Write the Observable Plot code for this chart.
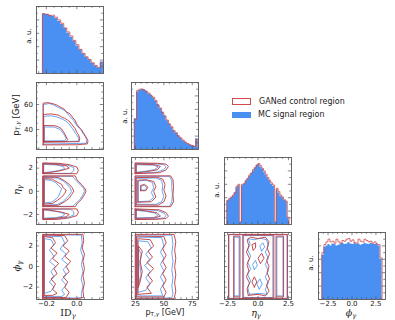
<!DOCTYPE html>
<html><head><meta charset="utf-8">
<script src="https://cdn.jsdelivr.net/npm/d3@7"></script>
<script src="https://cdn.jsdelivr.net/npm/@observablehq/plot@0.6"></script>
<style>
body{margin:0;background:#fff;}
#root{position:relative;width:395px;height:320px;overflow:hidden;font-family:"DejaVu Sans",sans-serif;}
.p{position:absolute;}
.lab{position:absolute;white-space:nowrap;color:#222;line-height:1;}
.lab sub{font-size:0.7em;vertical-align:-0.25em;line-height:0;}
.rot{transform:translate(-50%,-50%) rotate(-90deg);}
.ctr{transform:translate(-50%,-50%);}
.serif{font-family:"DejaVu Serif",serif;}
</style></head><body><div id="root"></div>
<script>
// ---------------- data ----------------
const seriesNames = ["GANed control region", "MC signal region"];

// ID_gamma histogram
const idHistStart = -0.226, idHistWidth = 0.02;
const idHistMC  = [0.89,0.88,0.87,0.85,0.82,0.78,0.73,0.67,0.60,0.54,0.48,0.41,0.35,0.29,0.24,0.20,0.15,0.11,0.08,0.17];
const idHistGAN = [0.89,0.885,0.86,0.87,0.84,0.80,0.75,0.68,0.62,0.56,0.49,0.43,0.36,0.30,0.25,0.21,0.16,0.12,0.09,0.16];

// pT histogram
const ptHistStart = 24, ptHistWidth = 2;
const ptHistMC  = [0.46,0.86,0.88,0.90,0.89,0.87,0.83,0.81,0.77,0.72,0.67,0.61,0.56,0.50,0.43,0.38,0.33,0.28,0.24,0.21,0.17,0.13,0.11,0.085,0.07,0.06,0.045,0.16];
const ptHistGAN = [0.45,0.88,0.90,0.90,0.88,0.86,0.84,0.80,0.78,0.73,0.66,0.62,0.55,0.50,0.44,0.38,0.34,0.28,0.25,0.20,0.17,0.14,0.11,0.09,0.07,0.06,0.05,0.15];

// eta histogram
const etaHistStart = -2.55, etaHistWidth = 0.15;
const etaHistMC  = [0.35,0.37,0.40,0.42,0.47,0.55,0.58,0.03,0.58,0.60,0.64,0.68,0.72,0.76,0.80,0.84,0.88,0.90,0.86,0.83,0.78,0.73,0.69,0.65,0.60,0.57,0.03,0.52,0.47,0.42,0.40,0.36,0.34,0.10];
const etaHistGAN = [0.36,0.39,0.41,0.44,0.48,0.57,0.60,0.04,0.60,0.61,0.66,0.69,0.74,0.77,0.82,0.85,0.89,0.91,0.88,0.84,0.80,0.75,0.70,0.66,0.62,0.59,0.04,0.54,0.49,0.44,0.41,0.37,0.35,0.11];

// phi histogram
const phiHistStart = -3.1416, phiHistWidth = 0.20944;
const phiHistMC  = [0.66,0.78,0.80,0.82,0.80,0.83,0.82,0.80,0.81,0.83,0.84,0.82,0.83,0.85,0.83,0.82,0.84,0.82,0.83,0.81,0.82,0.84,0.83,0.82,0.84,0.83,0.82,0.83,0.80,0.60];
const phiHistGAN = [0.70,0.82,0.86,0.90,0.86,0.87,0.84,0.90,0.86,0.84,0.88,0.87,0.90,0.91,0.87,0.89,0.85,0.84,0.90,0.87,0.86,0.90,0.88,0.86,0.87,0.84,0.86,0.83,0.82,0.62];

// contour lines: [x, y] points, one list per contour
const idPtGAN = [
 [[-0.222,27.7],[-0.222,61],[-0.19,61.5],[-0.153,60.5],[-0.13,59.5],[-0.11,58],[-0.085,56.5],[-0.067,54],[-0.045,52.5],[-0.03,50],[-0.01,47],[-0.002,44.5],[0.02,41],[0.03,40],[0.04,38],[0.06,34],[0.073,31],[0.07,28.5],[0.0,27.8],[-0.222,27.7]],
 [[-0.219,29.8],[-0.219,52],[-0.17,52.5],[-0.12,51.5],[-0.1,50],[-0.08,49],[-0.06,47.5],[-0.045,46],[-0.02,42],[-0.01,40.5],[-0.002,38],[0.01,36],[0.019,33],[0.015,30.3],[-0.219,29.8]],
 [[-0.216,30.5],[-0.216,43.2],[-0.142,43],[-0.12,42],[-0.1,40.5],[-0.09,38.5],[-0.077,36],[-0.07,34],[-0.06,32],[-0.07,30.3],[-0.216,30.5]]
];
const idPtMC = [
 [[-0.22,28.3],[-0.22,60],[-0.18,60.8],[-0.15,59.5],[-0.12,57.5],[-0.1,56.5],[-0.08,55],[-0.06,52.5],[-0.05,51],[-0.02,47],[0.0,43],[0.01,42],[0.025,40],[0.045,36],[0.055,34.5],[0.065,32],[0.062,29],[-0.22,28.3]],
 [[-0.217,30.2],[-0.217,50.5],[-0.17,51],[-0.13,50],[-0.09,48],[-0.07,46.5],[-0.055,45],[-0.03,41],[-0.01,37],[0.0,35.5],[0.012,33],[0.008,30.6],[-0.217,30.2]],
 [[-0.214,30.8],[-0.214,42],[-0.15,42],[-0.13,41],[-0.11,40],[-0.09,37],[-0.08,35],[-0.07,33],[-0.08,31],[-0.214,30.8]]
];
const idEtaGAN = [
 [[-0.224,-1.33],[-0.224,1.33],[-0.01,1.33],[0.0,1.0],[0.03,0.6],[0.055,0.2],[0.06,0],[0.05,-0.3],[0.03,-0.7],[0.0,-1.1],[-0.01,-1.33],[-0.224,-1.33]],
 [[-0.22,-1.25],[-0.22,1.25],[-0.12,1.2],[-0.08,0.9],[-0.05,0.6],[-0.03,0.3],[-0.02,0],[-0.035,-0.3],[-0.05,-0.6],[-0.08,-0.9],[-0.12,-1.2],[-0.22,-1.25]],
 [[-0.215,-1.1],[-0.215,1.1],[-0.16,1.05],[-0.13,0.8],[-0.1,0.6],[-0.09,0.3],[-0.07,0.1],[-0.08,-0.2],[-0.1,-0.5],[-0.13,-0.8],[-0.16,-1.05],[-0.215,-1.1]],
 [[-0.224,1.52],[-0.224,2.45],[-0.12,2.42],[-0.05,2.3],[0.0,2.1],[0.01,1.8],[0.0,1.52],[-0.224,1.52]],
 [[-0.22,1.58],[-0.22,2.38],[-0.13,2.32],[-0.07,2.2],[-0.05,2.0],[-0.1,1.8],[-0.18,1.62],[-0.22,1.58]],
 [[-0.224,-1.52],[-0.224,-2.45],[-0.12,-2.42],[-0.05,-2.3],[0.0,-2.1],[0.01,-1.8],[0.0,-1.52],[-0.224,-1.52]],
 [[-0.22,-1.58],[-0.22,-2.38],[-0.13,-2.32],[-0.07,-2.2],[-0.05,-2.0],[-0.1,-1.8],[-0.18,-1.62],[-0.22,-1.58]]
];
const idEtaMC = [
 [[-0.222,-1.3],[-0.222,1.3],[-0.03,1.3],[-0.01,1.0],[0.02,0.6],[0.045,0.25],[0.05,0],[0.04,-0.3],[0.02,-0.7],[-0.01,-1.1],[-0.03,-1.3],[-0.222,-1.3]],
 [[-0.218,-1.2],[-0.218,1.2],[-0.13,1.15],[-0.09,0.9],[-0.06,0.55],[-0.045,0.3],[-0.035,0],[-0.05,-0.35],[-0.07,-0.6],[-0.09,-0.9],[-0.13,-1.15],[-0.218,-1.2]],
 [[-0.213,-1.0],[-0.213,1.0],[-0.17,0.95],[-0.14,0.75],[-0.12,0.5],[-0.1,0.2],[-0.11,-0.1],[-0.12,-0.45],[-0.15,-0.8],[-0.17,-0.95],[-0.213,-1.0]],
 [[-0.222,1.55],[-0.222,2.42],[-0.13,2.38],[-0.06,2.25],[-0.02,2.05],[-0.02,1.8],[-0.04,1.55],[-0.222,1.55]],
 [[-0.218,1.62],[-0.218,2.32],[-0.14,2.28],[-0.09,2.15],[-0.08,1.95],[-0.12,1.78],[-0.19,1.65],[-0.218,1.62]],
 [[-0.222,-1.55],[-0.222,-2.42],[-0.13,-2.38],[-0.06,-2.25],[-0.02,-2.05],[-0.02,-1.8],[-0.04,-1.55],[-0.222,-1.55]],
 [[-0.218,-1.62],[-0.218,-2.32],[-0.14,-2.28],[-0.09,-2.15],[-0.08,-1.95],[-0.12,-1.78],[-0.19,-1.65],[-0.218,-1.62]]
];
const ptEtaGAN = [
 [[24.6,-1.33],[24.6,1.33],[56,1.33],[58,1.0],[58.5,0.4],[58,-0.3],[58.5,-0.9],[56,-1.33],[24.6,-1.33]],
 [[25.5,-1.18],[25.5,1.18],[44,1.22],[49,1.05],[51,0.6],[50,0.1],[52,-0.4],[50,-0.9],[45,-1.2],[25.5,-1.18]],
 [[27,-0.95],[27,0.95],[34,1.0],[41,0.85],[43,0.4],[41,0.0],[43,-0.5],[39,-0.9],[27,-0.95]],
 [[29.5,0.05],[29.5,0.5],[33,0.6],[36,0.35],[34,0.05],[29.5,0.05]],
 [[24.6,1.52],[24.6,2.45],[44,2.42],[52,2.35],[54,2.15],[52,1.85],[46,1.6],[24.6,1.52]],
 [[25.5,1.6],[25.5,2.35],[42,2.3],[47,2.15],[44,1.85],[35,1.7],[25.5,1.6]],
 [[24.6,-1.52],[24.6,-2.45],[44,-2.42],[52,-2.35],[54,-2.15],[52,-1.85],[46,-1.6],[24.6,-1.52]],
 [[25.5,-1.6],[25.5,-2.35],[42,-2.3],[47,-2.15],[44,-1.85],[35,-1.7],[25.5,-1.6]]
];
const ptEtaMC = [
 [[24.9,-1.3],[24.9,1.3],[55,1.3],[57,0.9],[57,0.3],[57.5,-0.3],[57,-0.9],[55,-1.3],[24.9,-1.3]],
 [[25.8,-1.12],[25.8,1.12],[43,1.15],[48,0.95],[49,0.5],[48.5,0.0],[50,-0.45],[48,-0.9],[43,-1.13],[25.8,-1.12]],
 [[27.5,-0.9],[27.5,0.9],[35,0.95],[40,0.75],[41,0.3],[39,-0.1],[41,-0.55],[37,-0.85],[27.5,-0.9]],
 [[30,0.1],[30,0.45],[33,0.5],[35,0.3],[33,0.1],[30,0.1]],
 [[24.9,1.55],[24.9,2.42],[43,2.38],[50,2.3],[52,2.12],[50,1.88],[44,1.65],[24.9,1.55]],
 [[25.8,1.64],[25.8,2.3],[41,2.26],[45,2.1],[42,1.88],[34,1.74],[25.8,1.64]],
 [[24.9,-1.55],[24.9,-2.42],[43,-2.38],[50,-2.3],[52,-2.12],[50,-1.88],[44,-1.65],[24.9,-1.55]],
 [[25.8,-1.64],[25.8,-2.3],[41,-2.26],[45,-2.1],[42,-1.88],[34,-1.74],[25.8,-1.64]]
];
const idPhiGAN = [
 [[-0.225,-3.12],[-0.225,3.12],[0.04,3.12],[0.045,2.5],[0.035,1.8],[0.05,1.2],[0.04,0.5],[0.05,-0.2],[0.04,-0.9],[0.05,-1.6],[0.04,-2.3],[0.045,-3.0],[0.0,-3.12],[-0.225,-3.12]],
 [[-0.22,-3.0],[-0.22,3.05],[-0.08,3.0],[-0.06,2.5],[-0.09,2.0],[-0.05,1.5],[-0.08,1.0],[-0.04,0.5],[-0.07,0],[-0.05,-0.5],[-0.09,-1.0],[-0.06,-1.5],[-0.08,-2.0],[-0.05,-2.5],[-0.07,-3.0],[-0.22,-3.0]],
 [[-0.215,-2.8],[-0.215,2.9],[-0.16,2.8],[-0.14,2.3],[-0.17,1.8],[-0.13,1.3],[-0.16,0.8],[-0.12,0.3],[-0.15,-0.2],[-0.13,-0.7],[-0.17,-1.2],[-0.14,-1.7],[-0.16,-2.2],[-0.13,-2.6],[-0.16,-2.8],[-0.215,-2.8]]
];
const idPhiMC = [
 [[-0.223,-3.05],[-0.223,3.08],[0.03,3.05],[0.035,2.3],[0.025,1.6],[0.04,0.9],[0.03,0.2],[0.04,-0.5],[0.028,-1.2],[0.04,-1.9],[0.03,-2.6],[0.03,-3.05],[-0.223,-3.05]],
 [[-0.218,-2.9],[-0.218,2.95],[-0.1,2.9],[-0.08,2.3],[-0.11,1.7],[-0.07,1.2],[-0.1,0.7],[-0.06,0.2],[-0.09,-0.3],[-0.07,-0.8],[-0.1,-1.3],[-0.07,-1.8],[-0.1,-2.3],[-0.08,-2.7],[-0.1,-2.9],[-0.218,-2.9]],
 [[-0.213,-2.6],[-0.213,2.7],[-0.17,2.6],[-0.15,2.1],[-0.18,1.6],[-0.15,1.0],[-0.18,0.5],[-0.14,0],[-0.17,-0.5],[-0.15,-1.0],[-0.18,-1.5],[-0.15,-2.0],[-0.17,-2.4],[-0.213,-2.6]]
];
const ptPhiGAN = [
 [[24.8,-3.12],[24.8,3.12],[59,3.12],[60.5,2.4],[59.5,1.6],[60.5,0.8],[59.5,0],[60.5,-0.8],[59.5,-1.6],[60.5,-2.4],[59,-3.12],[24.8,-3.12]],
 [[25.8,-2.95],[25.8,2.95],[50,2.9],[52,2.3],[49,1.7],[52,1.1],[49,0.5],[52,-0.1],[49,-0.7],[52,-1.3],[49,-1.9],[52,-2.5],[50,-2.95],[25.8,-2.95]],
 [[27,-2.7],[27,2.7],[38,2.6],[41,2.0],[36,1.5],[40,0.9],[35,0.4],[41,-0.2],[36,-0.8],[40,-1.4],[35,-2.0],[39,-2.6],[27,-2.7]],
 [[27.5,-2],[27.5,2],[31,1.5],[29,0.5],[31,-0.5],[29,-1.5],[27.5,-2]]
];
const ptPhiMC = [
 [[25.1,-3.05],[25.1,3.05],[57,3.05],[58,2.2],[57,1.3],[58,0.5],[57,-0.3],[58,-1.1],[57,-1.9],[58,-2.6],[57,-3.05],[25.1,-3.05]],
 [[26,-2.85],[26,2.85],[48,2.8],[50,2.0],[47,1.4],[50,0.8],[47,0.2],[50,-0.4],[47,-1.0],[50,-1.6],[47,-2.2],[49,-2.85],[26,-2.85]],
 [[27.3,-2.5],[27.3,2.5],[36,2.4],[39,1.8],[34,1.2],[38,0.6],[33,0.1],[38,-0.5],[34,-1.1],[38,-1.7],[34,-2.3],[27.3,-2.5]],
 [[27.8,-1.6],[27.8,1.7],[30,1.2],[28.8,0.2],[30,-0.8],[27.8,-1.6]]
];
const etaPhiGAN = [
 [[-2.42,-3.12],[-2.42,3.12],[2.42,3.12],[2.42,-3.12],[-2.42,-3.12]],
 [[-2.0,-2.95],[-2.0,2.95],[-1.48,2.95],[-1.48,-2.95],[-2.0,-2.95]],
 [[1.48,-2.95],[1.48,2.95],[2.1,2.95],[2.1,-2.95],[1.48,-2.95]],
 [[-1.25,-3.05],[-1.25,3.05],[1.3,3.05],[1.3,-3.05],[-1.25,-3.05]],
 [[-0.8,-2.8],[-0.9,-2.2],[-0.7,-1.6],[-0.95,-1.0],[-0.75,-0.4],[-0.9,0.2],[-0.7,0.8],[-0.95,1.4],[-0.75,2.0],[-0.9,2.6],[-0.6,2.85],[0,2.7],[0.6,2.85],[0.9,2.4],[0.75,1.8],[0.95,1.2],[0.7,0.6],[0.9,0],[0.75,-0.6],[0.95,-1.2],[0.7,-1.8],[0.9,-2.4],[0.6,-2.85],[0,-2.7],[-0.8,-2.8]],
 [[-0.3,-2.0],[-0.5,-1.5],[-0.3,-1.0],[-0.1,-1.5],[-0.3,-2.0]],
 [[0.2,0.3],[0.0,0.8],[0.3,1.3],[0.5,0.8],[0.2,0.3]],
 [[-0.4,1.6],[-0.5,2.1],[-0.2,2.3],[-0.2,1.8],[-0.4,1.6]]
];
const etaPhiMC = [
 [[-2.38,-3.08],[-2.38,3.08],[2.38,3.08],[2.38,-3.08],[-2.38,-3.08]],
 [[-1.95,-2.85],[-1.95,2.85],[-1.55,2.85],[-1.55,-2.85],[-1.95,-2.85]],
 [[1.55,-2.85],[1.55,2.85],[2.05,2.85],[2.05,-2.85],[1.55,-2.85]],
 [[-1.18,-3.0],[-1.18,3.0],[1.22,3.0],[1.22,-3.0],[-1.18,-3.0]],
 [[-0.7,-2.7],[-0.85,-2.0],[-0.6,-1.4],[-0.85,-0.8],[-0.6,-0.2],[-0.85,0.4],[-0.6,1.0],[-0.85,1.6],[-0.65,2.2],[-0.8,2.7],[-0.3,2.6],[0.2,2.75],[0.7,2.6],[0.85,2.0],[0.6,1.4],[0.85,0.8],[0.6,0.2],[0.85,-0.4],[0.6,-1.0],[0.85,-1.6],[0.6,-2.2],[0.75,-2.7],[0.1,-2.6],[-0.7,-2.7]],
 [[0.1,-2.2],[-0.1,-1.7],[0.15,-1.2],[0.35,-1.7],[0.1,-2.2]],
 [[-0.3,-0.3],[-0.45,0.2],[-0.2,0.6],[-0.05,0.1],[-0.3,-0.3]],
 [[0.3,1.5],[0.15,2.0],[0.4,2.3],[0.55,1.9],[0.3,1.5]]
];

// axis ticks and labels
const idTicks = [-0.2, 0.0], idMinor = [-0.25,-0.15,-0.1,-0.05,0.05,0.1,0.15];
const ptTicks = [25, 50, 75], ptMinor = [30,35,40,45,55,60,65,70,80];
const ptYTicks = [40, 60], ptYMinor = [25,30,35,45,50,55,65,70,75];
const etaTicks = [-2.5, 0.0, 2.5], etaMinor = [-2,-1.5,-1,-0.5,0.5,1,1.5,2];
const etaYTicks = [-2, 0, 2], etaYMinor = [-2.5,-1.5,-1,-0.5,0.5,1,1.5,2.5];
const phiTicks = [-2.5, 0.0, 2.5], phiMinor = [-3,-2,-1.5,-1,-0.5,0.5,1,1.5,2,3];
const phiYTicks = [-2, 0, 2], phiYMinor = [-3,-2.5,-1.5,-1,-0.5,0.5,1,1.5,2.5,3];
const histYTicks = [0.2, 0.4, 0.6, 0.8], histYMinor = [0.1,0.3,0.5,0.7,0.9];

// ---------------- drawing ----------------
const C = {blueFill:"#4a8ff2", redLine:"#d24a4a", blueC:"#5a9bf0", redC:"#c03838", frame:"#555", text:"#222"};
const W = 67, H = 67, ML = 32, MR = 6, MT = 6, MB = 18;
const colLeft = [36, 131, 224, 318];
const rowTop = [6, 82, 157, 232];
const root = document.getElementById("root");

const vars = {
  id:  {domain:[-0.265,0.175], ticks:idTicks, minor:idMinor, fmt:d3.format(".1f")},
  pt:  {domain:[21.5,80.5], ticks:ptTicks, minor:ptMinor, fmt:d3.format("d")},
  eta: {domain:[-2.75,2.75], ticks:etaTicks, minor:etaMinor, fmt:d3.format(".1f")},
  phi: {domain:[-3.5,3.5], ticks:phiTicks, minor:phiMinor, fmt:d3.format(".1f")},
  ptY: {domain:[24,77.6], ticks:ptYTicks, minor:ptYMinor, fmt:d3.format("d")},
  etaY:{domain:[-2.87,2.92], ticks:etaYTicks, minor:etaYMinor, fmt:d3.format("d")},
  phiY:{domain:[-3.2,3.3], ticks:phiYTicks, minor:phiYMinor, fmt:d3.format("d")},
  hist:{domain:[0,1], ticks:histYTicks, minor:histYMinor, fmt:null}
};

function histPoints(start, width, vals) {
  const pts = vals.map((v, i) => ({x: start + i * width, y: v}));
  pts.push({x: start + vals.length * width, y: vals[vals.length - 1]});
  return pts;
}
function histOutline(start, width, vals) {
  const pts = histPoints(start, width, vals);
  return [{x: start, y: 0}, ...pts, {x: pts[pts.length - 1].x, y: 0}];
}
function contourRows(list) {
  const rows = [];
  list.forEach((c, k) => c.forEach(([x, y]) => rows.push({x, y, k})));
  return rows;
}

function panel(col, row, xv, yv, dataMarks, showX, showY) {
  const marks = [...dataMarks];
  const tickStyle = {stroke: C.frame, strokeWidth: 0.7};
  for (const [vals, len] of [[xv.ticks, 3.2], [xv.minor, 1.8]]) {
    marks.push(Plot.tickX(vals, {x: d => d, insetTop: H - len, ...tickStyle}));
    marks.push(Plot.tickX(vals, {x: d => d, insetBottom: H - len, ...tickStyle}));
  }
  for (const [vals, len] of [[yv.ticks, 3.2], [yv.minor, 1.8]]) {
    marks.push(Plot.tickY(vals, {y: d => d, insetRight: W - len, ...tickStyle}));
    marks.push(Plot.tickY(vals, {y: d => d, insetLeft: W - len, ...tickStyle}));
  }
  if (showX) marks.push(Plot.axisX(xv.ticks, {tickSize: 0, tickPadding: 2, tickFormat: xv.fmt, fontSize: 7, fill: C.text, label: null}));
  if (showY) marks.push(Plot.axisY(yv.ticks, {tickSize: 0, tickPadding: 3.5, tickFormat: yv.fmt, fontSize: 7, fill: C.text, label: null}));
  marks.push(Plot.frame({stroke: C.frame, strokeWidth: 0.9}));
  const svg = Plot.plot({
    width: W + ML + MR, height: H + MT + MB,
    marginLeft: ML, marginRight: MR, marginTop: MT, marginBottom: MB,
    x: {domain: xv.domain, axis: null}, y: {domain: yv.domain, axis: null},
    style: {background: "transparent", overflow: "visible", fontFamily: "DejaVu Sans"},
    marks
  });
  svg.classList.add("p");
  svg.style.left = (colLeft[col] - ML) + "px";
  svg.style.top = (rowTop[row] - MT) + "px";
  root.appendChild(svg);
}

function histMarks(start, width, mc, gan) {
  return [
    Plot.areaY(histPoints(start, width, mc), {x: "x", y: "y", curve: "step-after", fill: C.blueFill}),
    Plot.line(histOutline(start, width, gan), {x: "x", y: "y", curve: "step-after", stroke: C.redLine, strokeWidth: 0.8})
  ];
}
function contourMarks(gan, mc) {
  return [
    Plot.line(contourRows(mc), {x: "x", y: "y", z: "k", stroke: C.blueC, strokeWidth: 0.9, strokeLinejoin: "round"}),
    Plot.line(contourRows(gan), {x: "x", y: "y", z: "k", stroke: C.redC, strokeWidth: 0.9, strokeLinejoin: "round"})
  ];
}

// diagonal
panel(0, 0, vars.id, vars.hist, histMarks(idHistStart, idHistWidth, idHistMC, idHistGAN), false, false);
panel(1, 1, vars.pt, vars.hist, histMarks(ptHistStart, ptHistWidth, ptHistMC, ptHistGAN), false, false);
panel(2, 2, vars.eta, vars.hist, histMarks(etaHistStart, etaHistWidth, etaHistMC, etaHistGAN), false, false);
panel(3, 3, vars.phi, vars.hist, histMarks(phiHistStart, phiHistWidth, phiHistMC, phiHistGAN), true, false);
// off-diagonal
panel(0, 1, vars.id, vars.ptY, contourMarks(idPtGAN, idPtMC), false, true);
panel(0, 2, vars.id, vars.etaY, contourMarks(idEtaGAN, idEtaMC), false, true);
panel(1, 2, vars.pt, vars.etaY, contourMarks(ptEtaGAN, ptEtaMC), false, false);
panel(0, 3, vars.id, vars.phiY, contourMarks(idPhiGAN, idPhiMC), true, true);
panel(1, 3, vars.pt, vars.phiY, contourMarks(ptPhiGAN, ptPhiMC), true, false);
panel(2, 3, vars.eta, vars.phiY, contourMarks(etaPhiGAN, etaPhiMC), true, false);

// text labels
function label(html, x, y, cls, size) {
  const d = document.createElement("div");
  d.className = "lab " + cls;
  d.style.left = x + "px"; d.style.top = y + "px"; d.style.fontSize = size + "px";
  d.innerHTML = html;
  root.appendChild(d);
}
const au = "a. u.";
label(au, 29, 36, "rot", 7);
label(au, 125, 116, "rot", 7);
label(au, 217, 190, "rot", 7);
label(au, 311, 263, "rot", 7);
label("p<sub>T,<i>γ</i></sub> [GeV]", 16, 115, "rot", 8.5);
label("<i>η<sub>γ</sub></i>", 17, 190, "rot serif", 10);
label("<i>ϕ<sub>γ</sub></i>", 17, 266, "rot serif", 10);
label("ID<sub><i>γ</i></sub>", 68, 313, "ctr serif", 9.5);
label("p<sub>T,<i>γ</i></sub> [GeV]", 165, 313, "ctr", 8);
label("<i>η<sub>γ</sub></i>", 256, 313, "ctr serif", 9.5);
label("<i>ϕ<sub>γ</sub></i>", 351, 313, "ctr serif", 9.5);

// legend
const lg = document.createElement("div");
lg.style.cssText = "position:absolute;left:232px;top:95px;font-size:8px;color:#222;";
lg.innerHTML =
  `<div style="display:flex;align-items:center;height:13px"><span style="display:inline-block;width:17px;height:5px;border:0.8px solid ${C.redLine};margin-right:8px"></span>${seriesNames[0]}</div>` +
  `<div style="display:flex;align-items:center;height:13px"><span style="display:inline-block;width:19px;height:6px;background:${C.blueFill};margin-right:7px"></span>${seriesNames[1]}</div>`;
root.appendChild(lg);
</script></body></html>
